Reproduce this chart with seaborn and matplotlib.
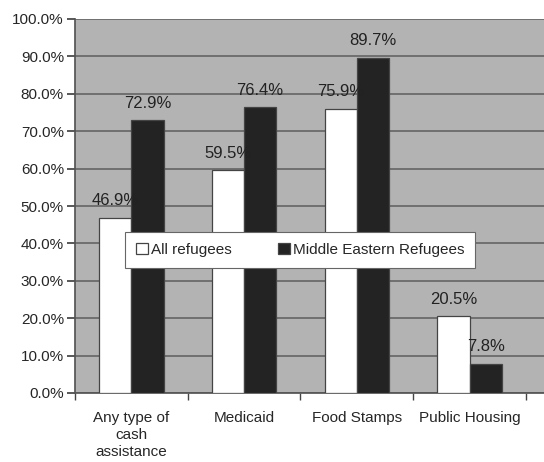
import pandas as pd
import matplotlib
matplotlib.use("Agg")
import matplotlib.pyplot as plt
import seaborn as sns
import numpy as np

# values
categories = ["Any type of\ncash\nassistance", "Medicaid", "Food Stamps",
              "Public Housing"]
groups = ["All refugees", "Middle Eastern Refugees"]
all_refugees = [46.9, 59.5, 75.9, 20.5]
middle_eastern = [72.9, 76.4, 89.7, 7.8]
yticks = [0, 10, 20, 30, 40, 50, 60, 70, 80, 90, 100]

df = pd.DataFrame({
    "category": categories * 2,
    "group": [groups[0]] * 4 + [groups[1]] * 4,
    "value": all_refugees + middle_eastern,
})

sns.set_theme(style="white")
plt.rcParams["font.family"] = ["Liberation Sans", "DejaVu Sans"]

fig = plt.figure(figsize=(5.44, 4.62), dpi=100)
ax = fig.add_axes([75 / 544, 69 / 462, 469 / 544, 374 / 462])
ax.set_facecolor("#b3b3b3")

sns.barplot(data=df, x="category", y="value", hue="group",
            palette={groups[0]: "white", groups[1]: "#232323"},
            width=0.57, gap=0, edgecolor="#444444", linewidth=0.9,
            saturation=1, ax=ax, zorder=3)

# grid lines
for v in yticks:
    ax.axhline(v, color="#6a6a6a", linewidth=1.3, zorder=1)

ax.set_ylim(0, 100)
ax.set_xlim(-0.5, 3.66)
ax.set_yticks(yticks)
ax.set_yticklabels(["%.1f%%" % v for v in yticks], fontsize=11)
ax.set_xticks(range(4))
ax.set_xticklabels(categories, fontsize=11, linespacing=1.28)
ax.tick_params(axis="x", length=0, pad=13)
ax.set_xticks([-0.5, 0.5, 1.5, 2.5, 3.5], minor=True)
ax.tick_params(axis="x", which="minor", length=5, color="#444444",
               direction="out", bottom=True)
ax.tick_params(axis="y", length=6, color="#444444", direction="out",
               left=True, pad=2)
ax.set_xlabel("")
ax.set_ylabel("")

for s in ["top", "right"]:
    ax.spines[s].set_visible(False)
ax.spines["left"].set_color("#555555")
ax.spines["bottom"].set_color("#555555")

# value labels
for cont in ax.containers:
    ax.bar_label(cont, labels=["%.1f%%" % b.get_height() for b in cont],
                 fontsize=12, padding=7, color="#222222")

leg = ax.legend(loc="center", bbox_to_anchor=(0.48, 0.383), ncol=2,
                frameon=True, fancybox=False, fontsize=11, framealpha=1,
                handlelength=0.8, handleheight=0.8, handletextpad=0.2,
                columnspacing=3.0, borderpad=0.7, borderaxespad=0)
leg.get_frame().set_edgecolor("#666666")
leg.get_frame().set_linewidth(0.8)
leg.set_zorder(5)

fig.savefig("out.png", dpi=100)
